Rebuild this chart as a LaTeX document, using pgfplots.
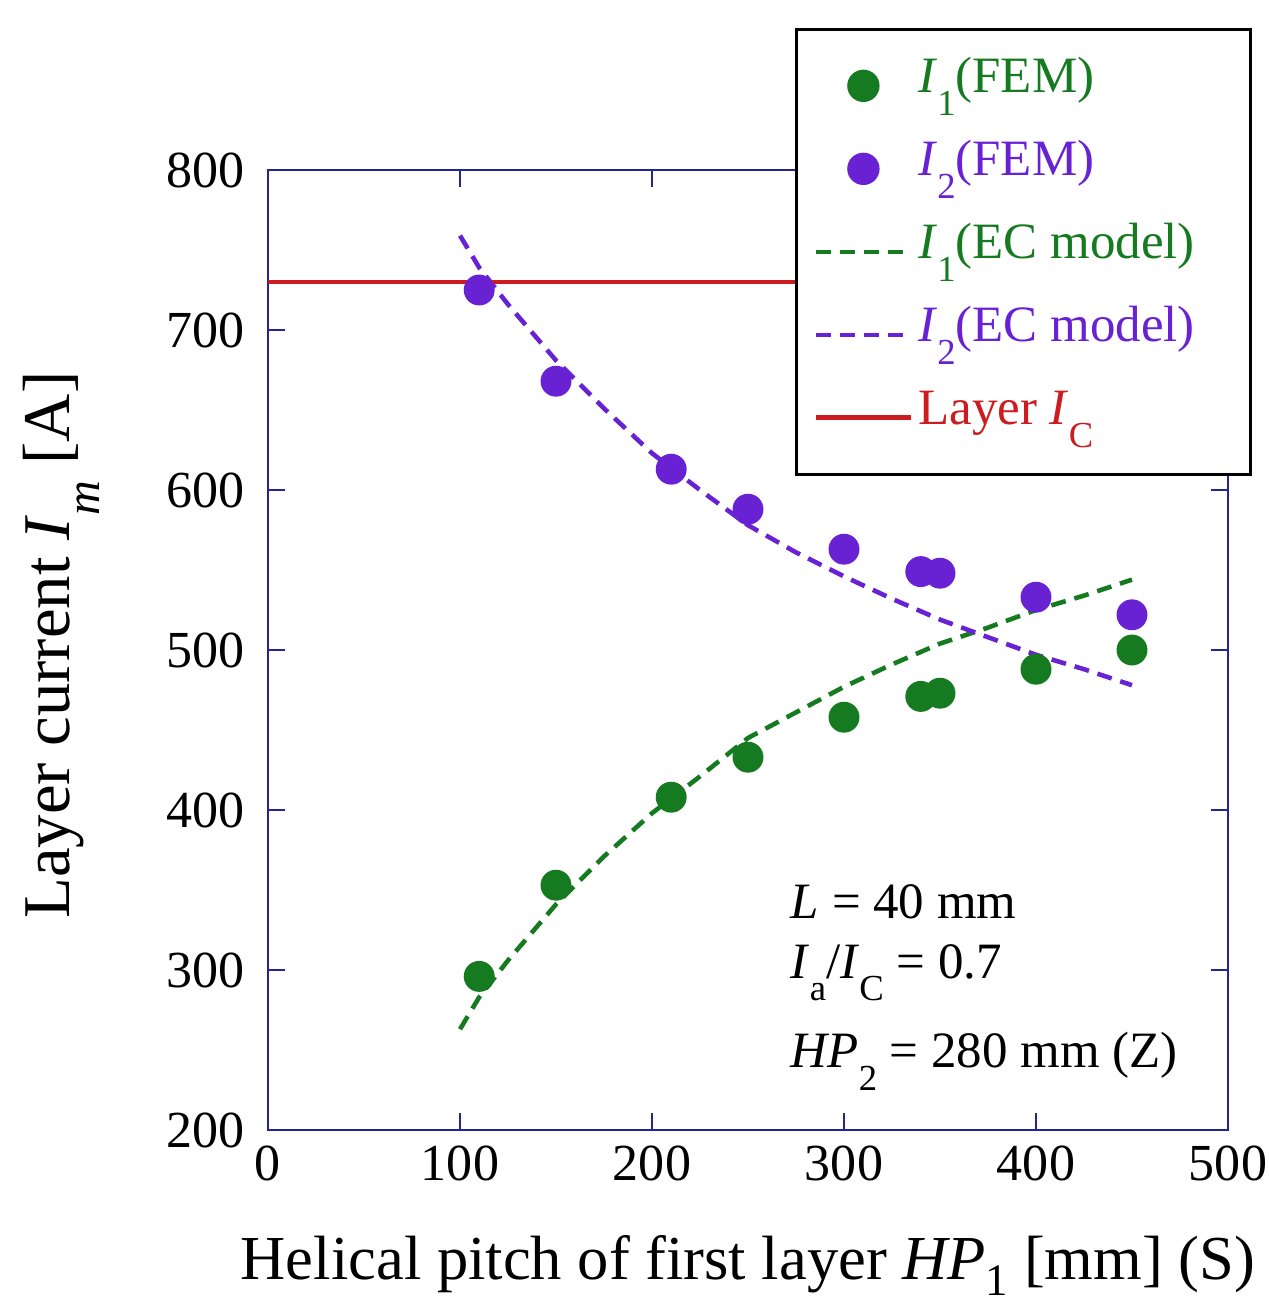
\documentclass[border=0pt]{standalone}
\usepackage{fontspec}
\setmainfont{Liberation Serif}
\usepackage{graphicx}
\usepackage{pgfplots}
\pgfplotsset{compat=1.18}

\definecolor{fgreen}{RGB}{22,122,32}
\definecolor{fpurple}{RGB}{104,34,212}
\definecolor{fred}{RGB}{204,28,32}
\definecolor{navy}{RGB}{36,36,150}

% italic symbol with a low, upright subscript
\newcommand{\sub}[2]{\textit{#1}\raisebox{-0.45em}{\scalebox{0.72}{#2}}}

\pgfplotsset{
  fem/.style={only marks, mark=*, mark size=4.2pt, color=#1},
  ecm/.style={no marks, color=#1, line width=1.3pt, dash pattern=on 1.5mm off 0.9mm},
  longleg/.style={legend image code/.code={%
    \draw[mark repeat=2,mark phase=2,##1] plot coordinates {(0mm,0mm) (4.75mm,0mm) (9.5mm,0mm)};}},
}

\begin{document}
\begin{tikzpicture}
\begin{axis}[
  scale only axis,
  width=96mm, height=96mm,
  xmin=0, xmax=500, ymin=200, ymax=800,
  xtick={0,100,...,500}, ytick={200,300,...,800},
  minor tick num=0,
  tick pos=both, tick align=inside,
  major tick length=1.7mm,
  axis line style={navy, line width=0.85pt},
  every tick/.style={navy, line width=0.85pt},
  /pgf/number format/assume math mode=true,
  tick label style={font=\fontsize{14.8}{17}\selectfont, black},
  yticklabel style={xshift=-1.1mm},
  xticklabel style={yshift=-0.3mm},
  every axis x label/.style={at={(axis description cs:0.5,-0.156)}, anchor=base,
    font=\fontsize{17.8}{21}\selectfont},
  every axis y label/.style={at={(axis description cs:-0.215,0.505)}, anchor=center,
    rotate=90, font=\fontsize{19}{23}\selectfont},
  xlabel={Helical pitch of first layer \textit{HP}\raisebox{-0.25em}{\scalebox{0.72}{1}} [mm] (S)},
  ylabel={Layer current \textit{I}\raisebox{-0.45em}{\scalebox{0.72}{\textit{m}}} [A]},
  legend style={at={(axis description cs:0.549,1.148)}, anchor=north west,
    draw=black, line width=0.8pt, fill=white,
    font=\fontsize{14.5}{17}\selectfont,
    cells={anchor=west}, row sep=0mm,
    inner xsep=1.7mm, inner ysep=1.5mm,
    nodes={text height=3.8mm, text depth=2.5mm, inner ysep=1mm, inner xsep=0.5mm},
    /tikz/every even column/.append style={column sep=0mm}},
]
\coordinate (bl) at (rel axis cs:0,0);
\coordinate (tr) at (rel axis cs:1,1);

% FEM results
\addplot[fem=fgreen, longleg] coordinates {
  (110,296) (150,353) (210,408) (250,433) (300,458)
  (340,471) (350,473) (400,488) (450,500)
};
\addlegendentry{\textcolor{fgreen}{\sub{I}{1}(FEM)}}

\addplot[fem=fpurple, longleg] coordinates {
  (110,725) (150,668) (210,613) (250,588) (300,563)
  (340,549) (350,548) (400,533) (450,522)
};
\addlegendentry{\textcolor{fpurple}{\sub{I}{2}(FEM)}}

% equivalent circuit model
\addplot[ecm=fgreen, longleg] coordinates {
  (100,263) (110,283) (125,306) (135,320) (150,341) (175,371)
  (200,398) (225,421) (250,445) (275,461) (300,477) (325,491)
  (350,504) (375,514) (400,525) (425,534) (450,544)
};
\addlegendentry{\textcolor{fgreen}{\sub{I}{1}(EC model)}\hspace*{3.4mm}}

\addplot[ecm=fpurple, longleg] coordinates {
  (100,759) (110,739) (125,716) (135,702) (150,681) (175,651)
  (200,623) (225,600) (250,578) (275,561) (300,546) (325,532)
  (350,519) (375,508) (400,497) (425,488) (450,478)
};
\addlegendentry{\textcolor{fpurple}{\sub{I}{2}(EC model)}}

\addplot[fred, line width=1.4pt, no marks, longleg] coordinates {(0,730) (500,730)};
\addlegendentry{\textcolor{fred}{Layer \sub{I}{C}}}

\node[anchor=base west, inner sep=0pt, font=\fontsize{14.5}{17}\selectfont] at (axis cs:272,332) {\textit{L} = 40 mm};
\node[anchor=base west, inner sep=0pt, font=\fontsize{14.5}{17}\selectfont] at (axis cs:272,295) {\sub{I}{a}/\sub{I}{C} = 0.7};
\node[anchor=base west, inner sep=0pt, font=\fontsize{14.5}{17}\selectfont] at (axis cs:272,239) {\sub{HP}{2} = 280 mm (Z)};

\end{axis}
\pgfresetboundingbox
\path[use as bounding box] ([shift={(-26.8mm,-17.6mm)}]bl) rectangle ([shift={(4mm,17mm)}]tr);
\end{tikzpicture}
\end{document}
